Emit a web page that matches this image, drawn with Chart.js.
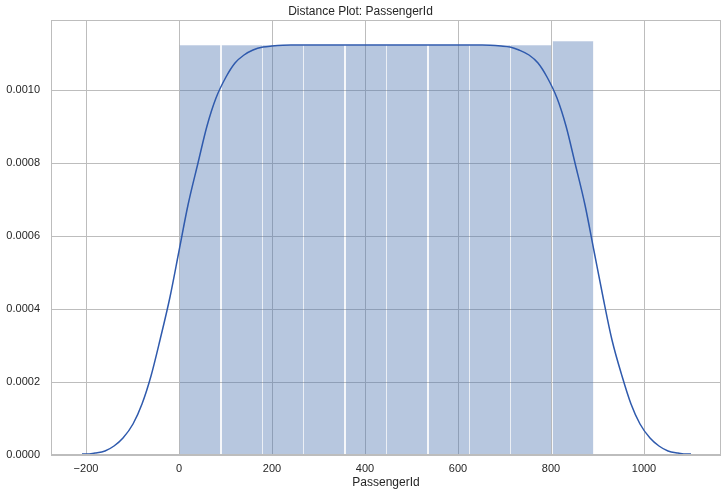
<!DOCTYPE html>
<html>
<head>
<meta charset="utf-8">
<script src="https://cdn.jsdelivr.net/npm/chart.js@4/dist/chart.umd.min.js"></script>
<style>
html,body{margin:0;padding:0;background:#ffffff;}
#wrap{width:727px;height:496px;}
canvas{display:block;}
</style>
</head>
<body>
<div id="wrap"><canvas id="c" width="727" height="496"></canvas></div>
<script>
// ---- data ----
const binEdges = [1, 90, 179, 268, 357, 446, 535, 624, 713, 802, 891];
const binDensity = [0.0011223, 0.0011223, 0.0011223, 0.0011223, 0.0011223,
                    0.0011223, 0.0011223, 0.0011223, 0.0011223, 0.0011348];
const kdeX = [-209, -200, -180, -160, -140, -120, -100, -80, -60, -40, -20, 0, 20, 40, 60, 80,
              100, 120, 140, 160, 180, 200, 240, 280, 446, 612, 652, 692, 712, 732, 752, 772,
              792, 812, 832, 852, 872, 892, 912, 932, 952, 972, 992, 1012, 1032, 1052, 1072, 1092, 1101];
const kdeY = [0.00000155, 0.00000235, 0.00000557, 0.00001227, 0.00002511, 0.0000478, 0.0000847,
              0.0001404, 0.0002175, 0.0003157, 0.0004319, 0.000558, 0.0006845, 0.0008009, 0.0009005,
              0.0009787, 0.0010352, 0.0010731, 0.0010964, 0.0011096, 0.0011165, 0.0011199, 0.001122,
              0.0011223, 0.0011223, 0.0011223, 0.001122, 0.0011199, 0.0011165, 0.0011096, 0.0010964,
              0.0010731, 0.0010352, 0.0009787, 0.0009005, 0.0008009, 0.0006845, 0.000558, 0.0004319,
              0.0003157, 0.0002175, 0.0001404, 0.0000847, 0.0000478, 0.00002511, 0.00001227,
              0.00000557, 0.00000235, 0.00000155];
const xTicks = [-200, 0, 200, 400, 600, 800, 1000];
const yTicks = [0, 0.0002, 0.0004, 0.0006, 0.0008, 0.0010];
const titleText = 'Distance Plot: PassengerId';
const xLabel = 'PassengerId';

// ---- build datasets ----
const barData = binDensity.map((d, i) => ({ x: (binEdges[i] + binEdges[i + 1]) / 2, y: d }));
const lineData = kdeX.map((x, i) => ({ x: x, y: kdeY[i] }));

Chart.defaults.font.family = "'Liberation Sans', Arial, sans-serif";
Chart.defaults.color = '#262626';

const GRID = '#bdbdbd';

const framePlugin = {
  id: 'frame',
  afterDatasetsDraw(chart) {
    const a = chart.chartArea;
    const ctx = chart.ctx;
    ctx.save();
    ctx.strokeStyle = GRID;
    ctx.lineWidth = 1;
    ctx.strokeRect(Math.round(a.left) + 0.5, Math.round(a.top) + 0.5,
                   Math.round(a.right - a.left) - 1, Math.round(a.bottom - a.top) - 1);
    ctx.restore();
  }
};

new Chart(document.getElementById('c'), {
  type: 'bar',
  data: {
    datasets: [
      {
        type: 'line',
        data: lineData,
        borderColor: '#2f5aad',
        borderWidth: 1.5,
        pointRadius: 0,
        fill: false,
        cubicInterpolationMode: 'monotone',
        order: 0
      },
      {
        type: 'bar',
        data: barData,
        backgroundColor: 'rgba(76,114,176,0.4)',
        borderColor: 'rgba(76,114,176,0.22)',
        borderWidth: 0.5,
        borderSkipped: false,
        inflateAmount: 0,
        barPercentage: 1,
        categoryPercentage: 1,
        grouped: false,
        order: 1
      }
    ]
  },
  options: {
    responsive: false,
    animation: false,
    events: [],
    layout: { padding: { left: 0, right: 6, top: 0, bottom: 0 } },
    plugins: {
      legend: { display: false },
      tooltip: { enabled: false },
      title: {
        display: true,
        text: titleText,
        color: '#262626',
        font: { size: 12, weight: 'normal' },
        padding: { top: 4.6, bottom: 1 }
      }
    },
    scales: {
      x: {
        type: 'linear',
        min: -275.5,
        max: 1165.5,
        offset: false,
        alignToPixels: true,
        afterBuildTicks(s) { s.ticks = xTicks.map(v => ({ value: v })); },
        afterFit(s) { s.height = 41; },
        grid: { color: GRID, lineWidth: 1, drawTicks: false, offset: false },
        border: { display: false },
        ticks: {
          padding: 7,
          color: '#262626',
          font: { size: 11 },
          maxRotation: 0,
          autoSkip: false,
          callback: v => (v < 0 ? '\u2212' + Math.abs(v) : String(v))
        },
        title: {
          display: true,
          text: xLabel,
          color: '#262626',
          font: { size: 12 },
          padding: { top: 0, bottom: 6 }
        }
      },
      y: {
        type: 'linear',
        min: 0,
        max: 0.0011916,
        alignToPixels: true,
        afterBuildTicks(s) { s.ticks = yTicks.map(v => ({ value: v })); },
        afterFit(s) { s.width = 51; },
        grid: { color: GRID, lineWidth: 1, drawTicks: false },
        border: { display: false },
        ticks: {
          padding: 11,
          color: '#262626',
          font: { size: 11 },
          autoSkip: false,
          callback: v => Number(v).toFixed(4)
        }
      }
    }
  },
  plugins: [framePlugin]
});
</script>
</body>
</html>
